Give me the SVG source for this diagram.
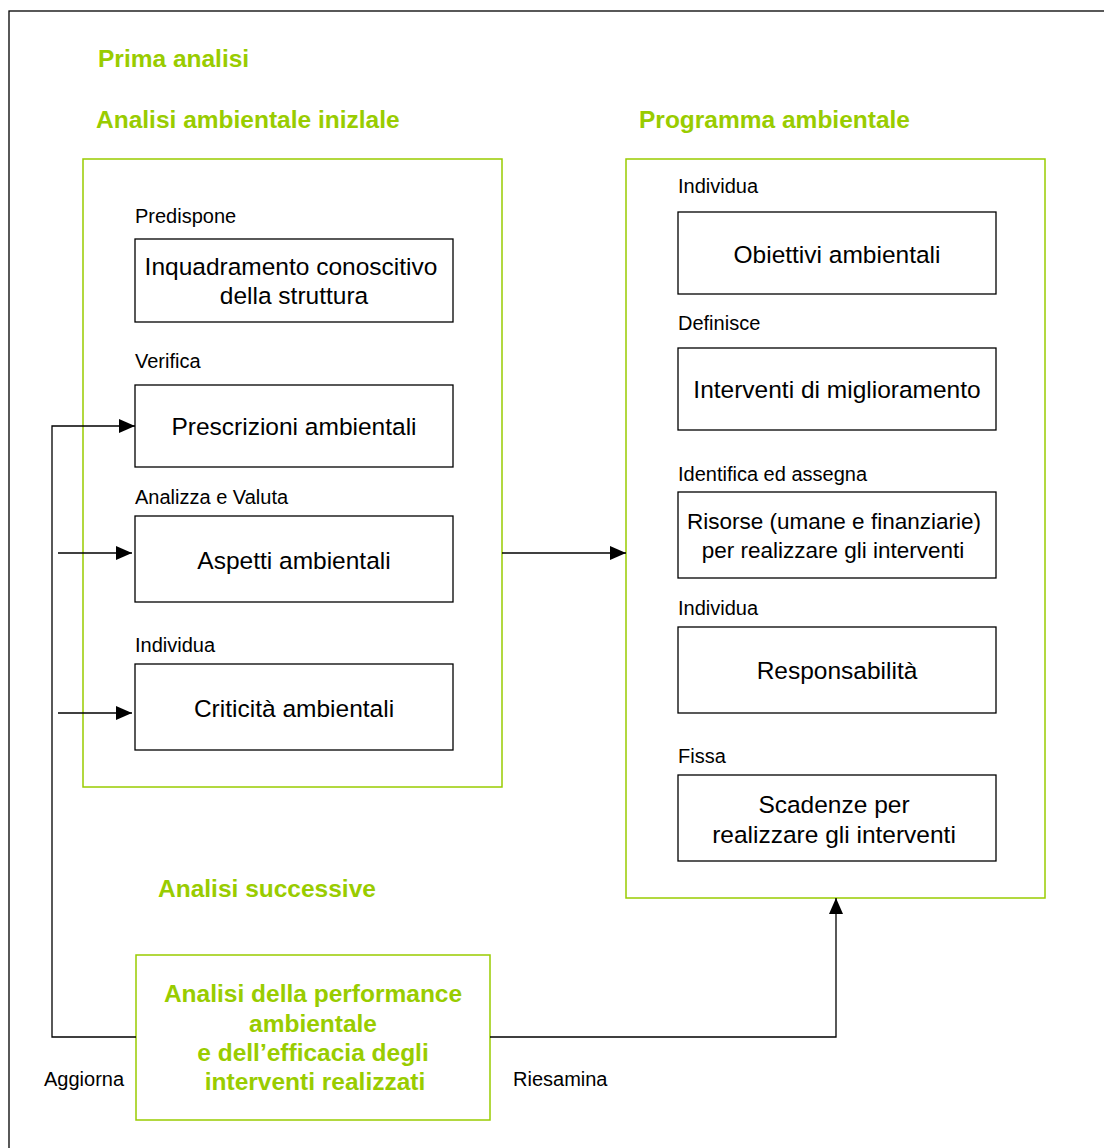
<svg xmlns="http://www.w3.org/2000/svg" width="1104" height="1148" viewBox="0 0 1104 1148">
<defs>
<style>
.frame{fill:none;stroke:#000;stroke-width:1.3}
.gbox{fill:#fff;stroke:#99cc00;stroke-width:1.5}
.box{fill:#fff;stroke:#000;stroke-width:1.3}
.lbl{font-family:"Liberation Sans",Arial,sans-serif;font-size:20px;fill:#000}
.bt{font-family:"Liberation Sans",Arial,sans-serif;font-size:24.5px;fill:#000;text-anchor:middle}
.gh{font-family:"Liberation Sans",Arial,sans-serif;font-size:24.5px;font-weight:bold;fill:#99cc00}
.line{fill:none;stroke:#000;stroke-width:1.3}
</style>
<marker id="ah" viewBox="0 0 16 14" refX="16" refY="7" markerWidth="16" markerHeight="14" markerUnits="userSpaceOnUse" orient="auto">
<path d="M0,0 L16,7 L0,14 Z" fill="#000"/>
</marker>
</defs>
<rect width="1104" height="1148" fill="#fff"/>
<rect class="frame" x="9" y="11" width="1110" height="1150"/>

<text class="gh" x="98" y="67">Prima analisi</text>
<text class="gh" x="96" y="128">Analisi ambientale inizlale</text>
<text class="gh" x="639" y="128">Programma ambientale</text>
<text class="gh" x="158" y="897">Analisi successive</text>

<g id="left-group">
<rect class="gbox" x="83" y="159" width="419" height="628"/>
</g>
<g id="right-group">
<rect class="gbox" x="626" y="159" width="419" height="739"/>
</g>

<g id="n-inquadramento">
<text class="lbl" x="135" y="223">Predispone</text>
<rect class="box" x="135" y="239" width="318" height="83"/>
<text class="bt" x="291" y="275">Inquadramento conoscitivo</text>
<text class="bt" x="294" y="304">della struttura</text>
</g>
<g id="n-prescrizioni">
<text class="lbl" x="135" y="368">Verifica</text>
<rect class="box" x="135" y="385" width="318" height="82"/>
<text class="bt" x="294" y="435">Prescrizioni ambientali</text>
</g>
<g id="n-aspetti">
<text class="lbl" x="135" y="504">Analizza e Valuta</text>
<rect class="box" x="135" y="516" width="318" height="86"/>
<text class="bt" x="294" y="569">Aspetti ambientali</text>
</g>
<g id="n-criticita">
<text class="lbl" x="135" y="652">Individua</text>
<rect class="box" x="135" y="664" width="318" height="86"/>
<text class="bt" x="294" y="717">Criticità ambientali</text>
</g>

<g id="n-obiettivi">
<text class="lbl" x="678" y="193">Individua</text>
<rect class="box" x="678" y="212" width="318" height="82"/>
<text class="bt" x="837" y="263">Obiettivi ambientali</text>
</g>
<g id="n-interventi">
<text class="lbl" x="678" y="330">Definisce</text>
<rect class="box" x="678" y="348" width="318" height="82"/>
<text class="bt" x="837" y="398">Interventi di miglioramento</text>
</g>
<g id="n-risorse">
<text class="lbl" x="678" y="481">Identifica ed assegna</text>
<rect class="box" x="678" y="492" width="318" height="86"/>
<text class="bt" x="834" y="529" style="font-size:22.5px">Risorse (umane e finanziarie)</text>
<text class="bt" x="833" y="558" style="font-size:22.5px">per realizzare gli interventi</text>
</g>
<g id="n-responsabilita">
<text class="lbl" x="678" y="615">Individua</text>
<rect class="box" x="678" y="627" width="318" height="86"/>
<text class="bt" x="837" y="679">Responsabilità</text>
</g>
<g id="n-scadenze">
<text class="lbl" x="678" y="763">Fissa</text>
<rect class="box" x="678" y="775" width="318" height="86"/>
<text class="bt" x="834" y="813">Scadenze per</text>
<text class="bt" x="834" y="843">realizzare gli interventi</text>
</g>

<g id="n-performance">
<rect class="gbox" x="136" y="955" width="354" height="165"/>
<text class="gh" x="313" y="1002" text-anchor="middle">Analisi della performance</text>
<text class="gh" x="313" y="1032" text-anchor="middle">ambientale</text>
<text class="gh" x="313" y="1061" text-anchor="middle">e dell’efficacia degli</text>
<text class="gh" x="315" y="1090" text-anchor="middle">interventi realizzati</text>
</g>

<g id="connectors">
<polyline class="line" points="136,1037 52,1037 52,426 135,426" marker-end="url(#ah)"/>
<line class="line" x1="58" y1="553" x2="132" y2="553" marker-end="url(#ah)"/>
<line class="line" x1="58" y1="713" x2="132" y2="713" marker-end="url(#ah)"/>
<line class="line" x1="502" y1="553" x2="626" y2="553" marker-end="url(#ah)"/>
<polyline class="line" points="490,1037 836,1037 836,898" marker-end="url(#ah)"/>
<text class="lbl" x="44" y="1086">Aggiorna</text>
<text class="lbl" x="513" y="1086">Riesamina</text>
</g>
</svg>
